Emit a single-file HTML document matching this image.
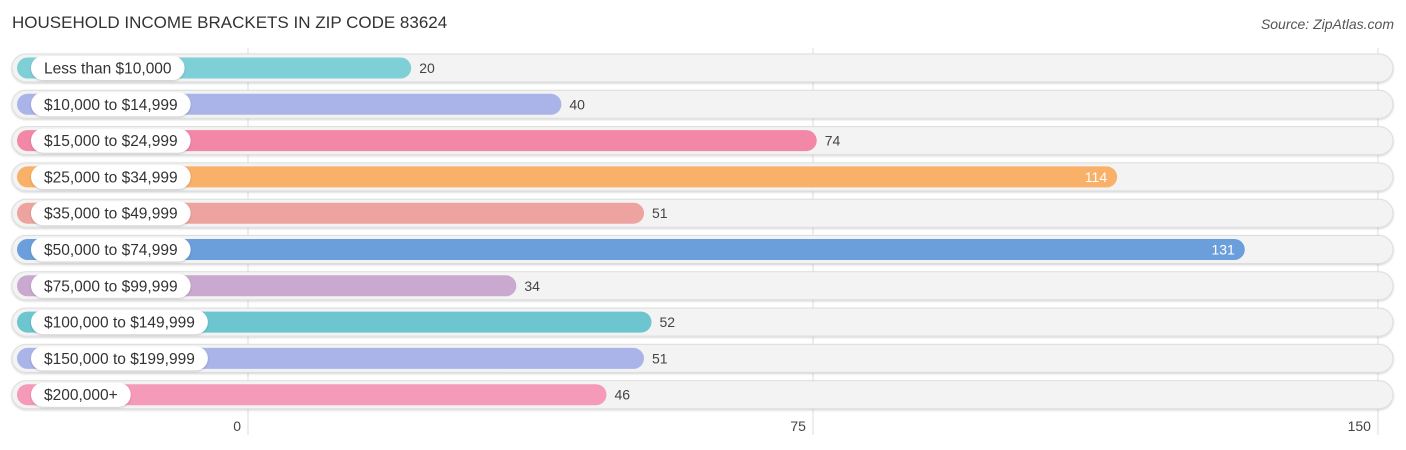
<!DOCTYPE html>
<html><head><meta charset="utf-8"><style>
body{margin:0;background:#fff;font-family:"Liberation Sans",sans-serif}
svg{display:block}
</style></head><body>
<svg id="c" width="1406" height="450">
<defs><filter id="sh" x="-5%" y="-30%" width="110%" height="160%"><feDropShadow dx="0" dy="1" stdDeviation="1" flood-color="#000" flood-opacity="0.18"/></filter></defs>
<text x="12" y="28" font-size="17" fill="#333">HOUSEHOLD INCOME BRACKETS IN ZIP CODE 83624</text>
<text x="1394" y="29" font-size="14" fill="#555" font-style="italic" text-anchor="end">Source: ZipAtlas.com</text>
<g id="grid"></g><g id="rows"></g><g id="ticks"></g>
</svg>
<script>
const categories=["Less than $10,000","$10,000 to $14,999","$15,000 to $24,999","$25,000 to $34,999","$35,000 to $49,999","$50,000 to $74,999","$75,000 to $99,999","$100,000 to $149,999","$150,000 to $199,999","$200,000+"];
const values=[20,40,74,114,51,131,34,52,51,46];
const colors=["#7ecfd6","#aab4e8","#f287a8","#f9b068","#eda3a0","#6a9fdb","#c9a9cf","#6cc5cf","#aab4e8","#f59ab8"];
const tickValues=[0,75,150];
const NS="http://www.w3.org/2000/svg";
function gx(v){return 248+v*7.533;}
function bx(v){return 261+v*7.51;}
function rowY(i){return 68+i*36.3;}
function mk(t,a,p){const e=document.createElementNS(NS,t);for(const k in a)e.setAttribute(k,a[k]);p.appendChild(e);return e;}
const grid=document.getElementById('grid'),rows=document.getElementById('rows'),ticks=document.getElementById('ticks');
tickValues.forEach(v=>{
  const l=mk('line',{x1:gx(v),x2:gx(v),y1:48,y2:435,stroke:'#ddd','stroke-width':1},grid);
  
  
  const t=mk('text',{x:gx(v)-7,y:431,'font-size':14,fill:'#444','text-anchor':'end'},ticks);
  t.textContent=v;
  
  
});
categories.forEach((c,i)=>{
  const y=rowY(i);
  const g=mk('g',{},rows);
  
  
  const tr=mk('rect',{x:12,y:y-14,width:1381,height:28,rx:14,fill:'#f3f3f3',stroke:'#ddd','stroke-width':1,filter:'url(#sh)'},g);
  
  
  const b=mk('rect',{x:17,y:y-10.5,width:bx(values[i])-17,height:21,rx:10.5,fill:colors[i]},g);
  
  
  const lt=mk('text',{x:44,y:y+5.5,'font-size':15.5,fill:'#333'},g);
  lt.textContent=c;
  
  
  let tw=c.length*8;
  try{tw=lt.getComputedTextLength();}catch(e){}
  const p=mk('rect',{x:31,y:y-12,width:tw+26,height:24,rx:12,fill:'#fff',filter:'url(#sh)'},g);
  
  
  g.insertBefore(p,lt);
  const inside=values[i]>100;
  const vt=mk('text',{x:inside?bx(values[i])-10:bx(values[i])+8,y:y+5,'font-size':14,fill:inside?'#fff':'#444','text-anchor':inside?'end':'start'},g);
  vt.textContent=values[i];
  
  
});
</script>
</body></html>
